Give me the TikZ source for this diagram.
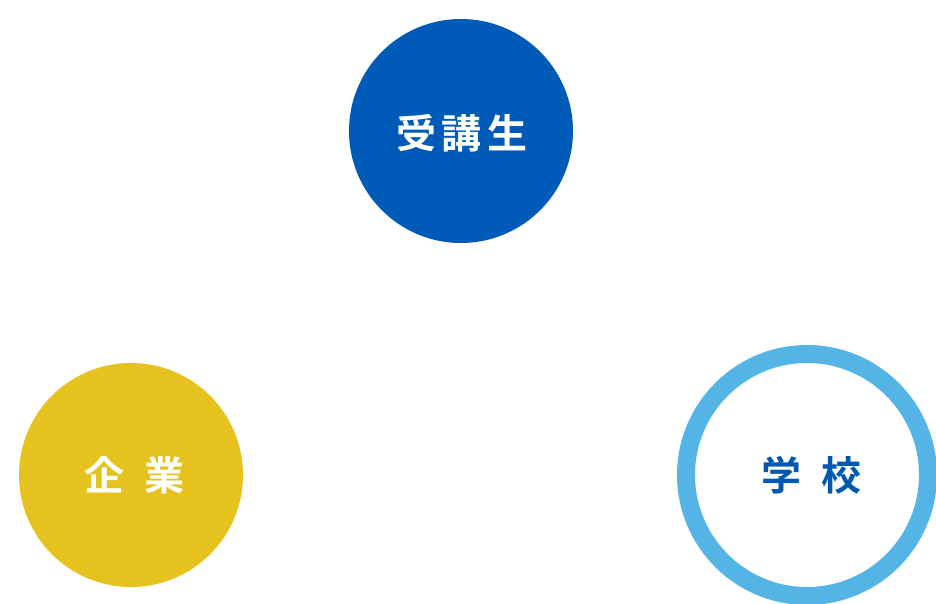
\documentclass[tikz,border=0pt]{standalone}
\usepackage{fontspec}
\usepackage{xcolor}
\usepackage{tikz}
\usetikzlibrary{positioning}
\newfontfamily\jpfont{Noto Sans CJK JP}[BoldFont={* Bold}]
\definecolor{deepblue}{HTML}{005AB8}
\definecolor{mustard}{HTML}{E6C21E}
\definecolor{skyring}{HTML}{55B4E6}
\definecolor{schooltext}{HTML}{0058B0}

\begin{document}
\begin{tikzpicture}[x=1pt, y=-1pt, font=\jpfont\bfseries\fontsize{40}{46}\selectfont,
    party/.style={circle, minimum size=224pt, inner sep=0pt}]
  \useasboundingbox (0,0) rectangle (936,604);

  % learners
  \node[party, fill=deepblue] (learner) at (461,131) {};
  \node[text=white] (learnerlabel) at ([xshift=1pt,yshift=-2pt]learner.center)
    {受\hspace{5pt}講\hspace{6pt}生};

  % companies
  \node[party, fill=mustard] (company) at (131,475) {};
  \node[text=white] (companylabel) at ([xshift=3pt]company.center)
    {企\hspace{20pt}業};

  % schools
  \node[party, minimum size=242pt, draw=skyring, line width=18pt] (school)
    at (807,475) {};
  \node[text=schooltext] (schoollabel) at ([xshift=4pt]school.center)
    {学\hspace{20pt}校};
\end{tikzpicture}
\end{document}
